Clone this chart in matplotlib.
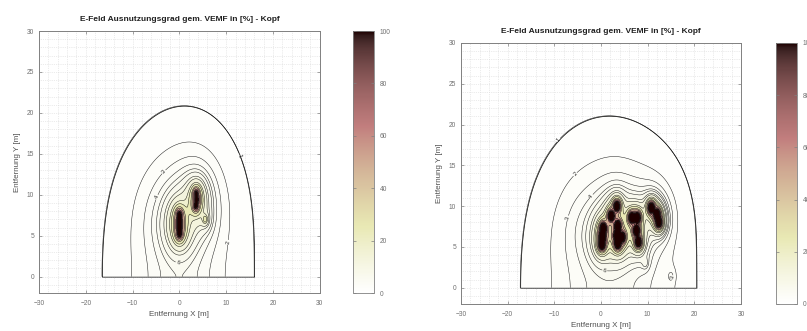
import numpy as np
import matplotlib
matplotlib.use("Agg")
import matplotlib.pyplot as plt
from matplotlib.ticker import MultipleLocator

plt.rcParams['font.family'] = ['Liberation Sans', 'DejaVu Sans']

# antenna positions [m] with far-field (a) and near-field (n) strength
left_x = [0.0, 0.0, 0.0, 0.0, 3.5, 3.7, 3.6, 5.5]
left_y = [5.2, 6.0, 6.8, 7.6, 8.6, 9.4, 10.2, 7.0]
left_a = [15, 15, 15, 15, 13, 14, 13, 3]
left_n = [6, 6, 6, 6, 5, 5, 5, 1]

right_x = [0.2, 0.3, 0.5, 2.2, 3.4, 3.6, 3.4, 3.6, 4.6, 6.6, 7.8, 7.6, 8.0, 10.8, 12.0, 12.4, 9.5, 15.0]
right_y = [5.3, 6.3, 7.3, 8.8, 10.0, 7.6, 6.4, 5.4, 6.2, 8.6, 8.6, 7.0, 5.6, 9.8, 9.0, 8.0, 3.0, 1.4]
right_a = [7.5, 7.5, 7.5, 6.5, 6.5, 6.5, 6.5, 6.5, 5, 5.5, 5.5, 5.5, 5.0, 5.0, 5.0, 4.0, 1, 0.6]
right_n = [30, 30, 30, 28, 28, 28, 28, 28, 22, 30, 30, 30, 28, 32, 32, 28, 0, 0]

# broad halo around the whole installation (one per plot)
halo_x = [-4.0, -4.0]
halo_y = [7.0, 7.0]
halo_a = [55, 82]
halo_s = [40, 40]

levels = [1, 2, 3, 4, 5, 6, 8, 10, 15, 20, 30, 40, 60, 80, 100]
label_levels = [1, 2, 3, 4, 6]
cbar_ticks = [0, 20, 40, 60, 80, 100]
title = 'E-Feld Ausnutzungsgrad gem. VEMF in [%] - Kopf'

xg = np.linspace(-30, 30, 601)
yg = np.linspace(0, 30, 301)
X, Y = np.meshgrid(xg, yg)


def field(sx, sy, sa, sn, hx, hy, ha, hs):
    E = np.zeros_like(X)
    # each source plus its ground reflection
    for x0, y0, a, n in zip(sx, sy, sa, sn):
        for yy in (y0, -y0):
            d2 = (X - x0) ** 2 + (Y - yy) ** 2 + 0.3
            E += a / d2 + n / d2 ** 2
    for yy in (hy, -hy):
        E += ha / ((X - hx) ** 2 + (Y - yy) ** 2 + hs)
    return E


fig = plt.figure(figsize=(8.07, 3.31), dpi=100)
ax_pos = [[0.0483, 0.1148, 0.348, 0.7915], [0.5712, 0.0816, 0.347, 0.7885]]
cb_pos = [[0.4374, 0.1148, 0.026, 0.7915], [0.9616, 0.0816, 0.026, 0.7885]]
data = [(left_x, left_y, left_a, left_n), (right_x, right_y, right_a, right_n)]

for k in range(2):
    ax = fig.add_axes(ax_pos[k])
    E = field(*data[k], halo_x[k], halo_y[k], halo_a[k], halo_s[k])
    ax.contourf(X, Y, E, levels=levels, cmap='pink_r', vmin=0, vmax=100, extend='max')
    # outline of the filled area (closes it along y = 0)
    edge = ax.contourf(X, Y, E, levels=[levels[0], 1e9], colors='none')
    edge.set_edgecolor('k')
    edge.set_linewidth(0.5)
    cl = ax.contour(X, Y, E, levels=levels, colors='#1a1a1a', linewidths=0.35)
    ax.clabel(cl, levels=label_levels, fontsize=4, inline=True, fmt='%d', inline_spacing=1)

    ax.set_xlim(-30, 30)
    ax.set_ylim(-2, 30)
    ax.xaxis.set_major_locator(MultipleLocator(10))
    ax.yaxis.set_major_locator(MultipleLocator(5))
    ax.xaxis.set_minor_locator(MultipleLocator(2))
    ax.yaxis.set_minor_locator(MultipleLocator(1))
    ax.grid(which='both', color='#d8d8d8', linestyle=':', linewidth=0.5)
    ax.set_axisbelow(True)
    ax.tick_params(which='major', direction='in', length=2, width=0.5, colors='#808080',
                   labelsize=4.8, labelcolor='#707070', top=True, right=True)
    ax.tick_params(axis='x', pad=5)
    ax.tick_params(axis='y', pad=3.5)
    ax.tick_params(which='minor', length=0)
    for s in ax.spines.values():
        s.set_color('#808080')
        s.set_linewidth(0.7)
    ax.set_xlabel('Entfernung X [m]', fontsize=5.8, color='#505050', labelpad=3)
    ax.set_ylabel('Entfernung Y [m]', fontsize=5.8, color='#505050', labelpad=4)
    ax.set_title(title, fontsize=6, fontweight='bold', color='#202020', pad=7)

    cax = fig.add_axes(cb_pos[k])
    sm = plt.cm.ScalarMappable(cmap='pink_r', norm=plt.Normalize(0, 100))
    cb = fig.colorbar(sm, cax=cax, ticks=cbar_ticks)
    cb.outline.set_edgecolor('#808080')
    cb.outline.set_linewidth(0.6)
    cax.tick_params(direction='in', length=2, width=0.5, colors='#808080', labelsize=4.8,
                    labelcolor='#707070', left=True, pad=4)

fig.savefig('out.png', dpi=100)
